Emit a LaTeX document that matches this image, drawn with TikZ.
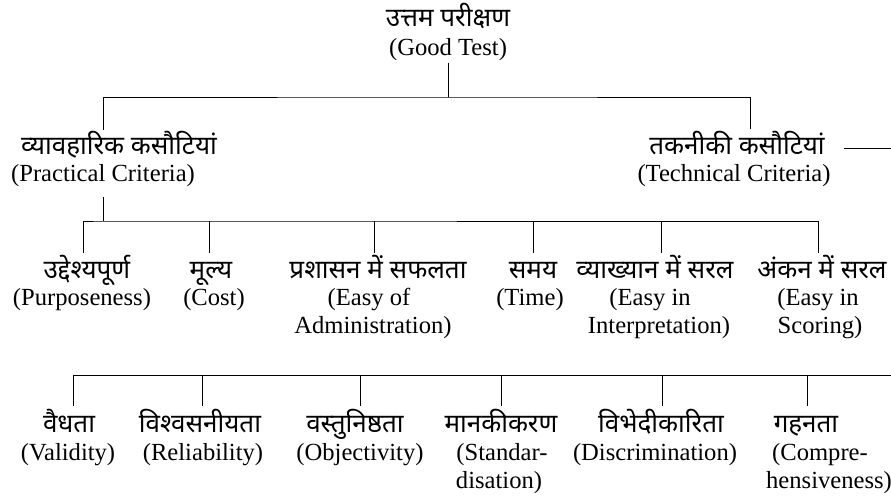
\documentclass[tikz,border=0pt]{standalone}
\usepackage{fontspec}
\setmainfont{Liberation Serif}
\newfontfamily\hindi[Script=Devanagari]{Noto Sans}
\begin{document}
\begin{tikzpicture}[x=1pt,y=-1pt,
  hi/.style={inner sep=0pt,anchor=base,font=\hindi\fontsize{26}{30}\selectfont},
  en/.style={inner sep=0pt,anchor=base,font=\fontsize{24.6}{28}\selectfont},
  conn/.style={draw=black,line width=0.9pt}]
\useasboundingbox (0,0) rectangle (891,500);
% root
\node[hi] (rooth) at (448,27) {उत्तम परीक्षण};
\node[en] (roote) at (448,56) {(Good Test)};
% level 1
\node[hi] (prach) at (119,154) {व्यावहारिक कसौटियां};
\node[en] (prace) at (103,181) {(Practical Criteria)};
\node[hi] (tech) at (737,154) {तकनीकी कसौटियां};
\node[en] (teche) at (734,181) {(Technical Criteria)};
\coordinate (bus1) at (448,97);
\coordinate (pd) at (103,130);
\coordinate (td) at (750,129);
\draw[conn] ([yshift=-7pt]roote.base) -- (bus1);
\draw[conn] (pd) |- (bus1) -| (td);
\coordinate (ta) at (844,148);
\coordinate (tb) at (891,148);
\draw[conn] (ta) -- (tb);
% level 2
\coordinate (p2top) at (103,197);
\coordinate (bus2) at (103,221);
\draw[conn] (p2top) -- (bus2);
\node[hi] (a1h) at (87,278) {उद्देश्यपूर्ण};
\node[en] (a1e) at (82,305) {(Purposeness)};
\node[hi] (a2h) at (211,278) {मूल्य};
\node[en] (a2e) at (214,305) {(Cost)};
\node[hi] (a3h) at (378,278) {प्रशासन में सफलता};
\node[en] (a3e) at (369,305) {(Easy of};
\node[en] (a3f) at (373,333) {Administration)};
\node[hi] (a4h) at (533,278) {समय};
\node[en] (a4e) at (530,305) {(Time)};
\node[hi] (a5h) at (655,278) {व्याख्यान में सरल};
\node[en] (a5e) at (650,305) {(Easy in};
\node[en] (a5f) at (659,333) {Interpretation)};
\node[hi] (a6h) at (822,278) {अंकन में सरल};
\node[en] (a6e) at (818,305) {(Easy in};
\node[en] (a6f) at (820,333) {Scoring)};
\coordinate (d21) at (83,253);
\coordinate (d22) at (209,253);
\coordinate (d23) at (374,253);
\coordinate (d24) at (533,253);
\coordinate (d25) at (661,253);
\coordinate (d26) at (818,253);
\draw[conn] (d21) |- (bus2) -| (d26);
\foreach \d in {d22,d23,d24,d25} \draw[conn] (\d) -- (\d |- bus2);
% level 3
\coordinate (bus3a) at (73,375);
\coordinate (bus3b) at (891,375);
\draw[conn] (bus3a) -- (bus3b);
\node[hi] (b1h) at (69,432) {वैधता};
\node[en] (b1e) at (68,460) {(Validity)};
\node[hi] (b2h) at (200,432) {विश्वसनीयता};
\node[en] (b2e) at (203,460) {(Reliability)};
\node[hi] (b3h) at (355,432) {वस्तुनिष्ठता};
\node[en] (b3e) at (360,460) {(Objectivity)};
\node[hi] (b4h) at (501,432) {मानकीकरण};
\node[en] (b4e) at (502,460) {(Standar-};
\node[en] (b4f) at (499,488) {disation)};
\node[hi] (b5h) at (661,432) {विभेदीकारिता};
\node[en] (b5e) at (655,460) {(Discrimination)};
\node[hi] (b6h) at (806,432) {गहनता};
\node[en] (b6e) at (820,460) {(Compre-};
\node[en] (b6f) at (829,488) {hensiveness)};
\coordinate (d31) at (73,406);
\coordinate (d32) at (202,406);
\coordinate (d33) at (360,406);
\coordinate (d34) at (501,406);
\coordinate (d35) at (662,406);
\coordinate (d36) at (807,406);
\draw[conn] (d31) -- (bus3a);
\foreach \d in {d32,d33,d34,d35,d36} \draw[conn] (\d) -- (\d |- bus3a);
\end{tikzpicture}
\end{document}
